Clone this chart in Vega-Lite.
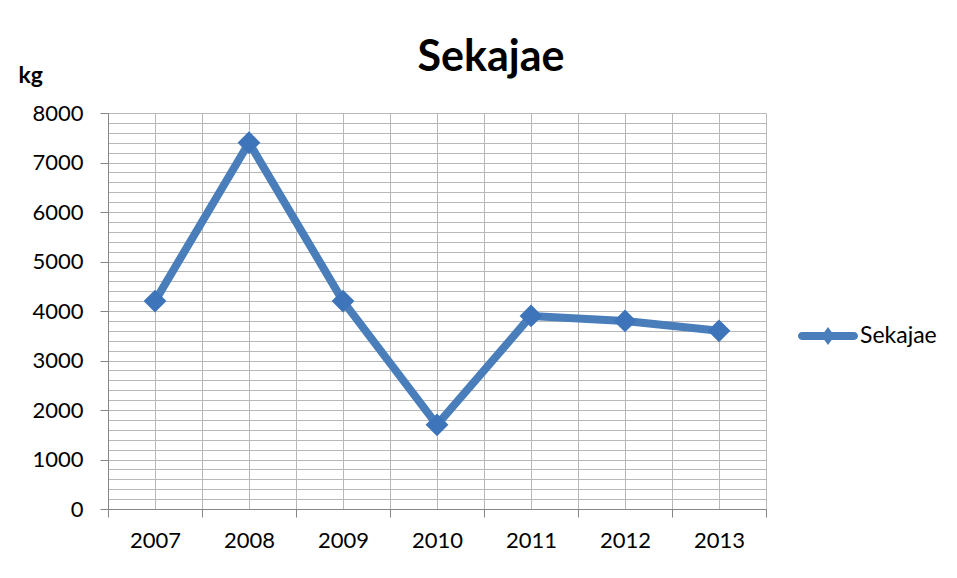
{
  "$schema": "https://vega.github.io/schema/vega-lite/v6.json",
  "autosize": {"type": "none"},
  "width": 658,
  "height": 396,
  "padding": {"left": 108, "top": 113, "right": 191, "bottom": 69},
  "background": "white",
  "config": {
    "view": {"stroke": null},
    "font": "Lato",
    "axis": {"labelFont": "Lato", "labelColor": "black", "labelFontSize": 22, "domainColor": "#868686", "tickColor": "#868686", "gridColor": "#b8b8b8", "gridWidth": 1}
  },
  "title": {"text": "Sekajae", "font": "Lato", "fontSize": 43, "fontWeight": "bold", "color": "black", "anchor": "middle", "dx": 54, "dy": 24, "offset": 8},
  "data": {"values": [
    {"year": "2007", "value": 4200, "series": "Sekajae"},
    {"year": "2008", "value": 7400, "series": "Sekajae"},
    {"year": "2009", "value": 4200, "series": "Sekajae"},
    {"year": "2010", "value": 1700, "series": "Sekajae"},
    {"year": "2011", "value": 3900, "series": "Sekajae"},
    {"year": "2012", "value": 3800, "series": "Sekajae"},
    {"year": "2013", "value": 3600, "series": "Sekajae"}
  ]},
  "resolve": {"axis": {"x": "independent", "y": "independent"}},
  "layer": [
    {
      "mark": {"type": "line", "strokeWidth": 8, "strokeJoin": "round"},
      "encoding": {
        "x": {"field": "year", "type": "ordinal", "scale": {"type": "band", "paddingInner": 0, "paddingOuter": 0},
          "axis": {"orient": "bottom", "title": null, "labels": false, "ticks": false, "domain": false, "grid": true, "bandPosition": 0.5, "zindex": 0}},
        "y": {"field": "value", "type": "quantitative", "scale": {"domain": [0, 8000], "nice": false},
          "axis": {"orient": "left", "title": null, "labels": false, "ticks": false, "domain": false, "grid": true, "values": [0,200,400,600,800,1000,1200,1400,1600,1800,2000,2200,2400,2600,2800,3000,3200,3400,3600,3800,4000,4200,4400,4600,4800,5000,5200,5400,5600,5800,6000,6200,6400,6600,6800,7000,7200,7400,7600,7800,8000], "zindex": 0}},
        "color": {"field": "series", "type": "nominal", "scale": {"range": ["#4a7ebb"]},
          "legend": {"title": null, "orient": "none", "legendX": 690, "legendY": 193, "padding": 0,
            "symbolType": "M-0.87,-0.13H0.87A0.13,0.13 0 0 1 0.87,0.13H-0.87A0.13,0.13 0 0 1 -0.87,-0.13Z M0,-0.3L0.22,0L0,0.3L-0.22,0Z",
            "symbolSize": 3600, "symbolFillColor": "#4a7ebb", "symbolStrokeWidth": 0, "labelFont": "Lato", "labelFontSize": 23, "labelColor": "black", "labelOffset": 2,
            "encode": {"symbols": {"update": {"fill": {"value": "#4a7ebb"}, "stroke": {"value": "transparent"}, "strokeWidth": {"value": 0}, "opacity": {"value": 1}}}}}}
      }
    },
    {
      "mark": {"type": "point", "shape": "diamond", "filled": true, "size": 520, "color": "#3e74b9", "opacity": 1},
      "encoding": {
        "x": {"field": "year", "type": "ordinal",
          "axis": {"orient": "bottom", "title": null, "tickBand": "extent", "grid": true, "zindex": 0, "tickSize": 8, "labelPadding": 13, "labelAngle": 0}},
        "y": {"field": "value", "type": "quantitative",
          "axis": {"orient": "left", "format": "d", "title": "kg", "titleAngle": 0, "titleFont": "Lato", "titleFontSize": 23, "titleFontWeight": "bold", "titleColor": "black", "titleAlign": "left", "titleBaseline": "alphabetic", "titleX": -90, "titleY": -31,
            "values": [0,1000,2000,3000,4000,5000,6000,7000,8000], "grid": false, "tickSize": 8, "labelPadding": 17}}
      }
    }
  ]
}
